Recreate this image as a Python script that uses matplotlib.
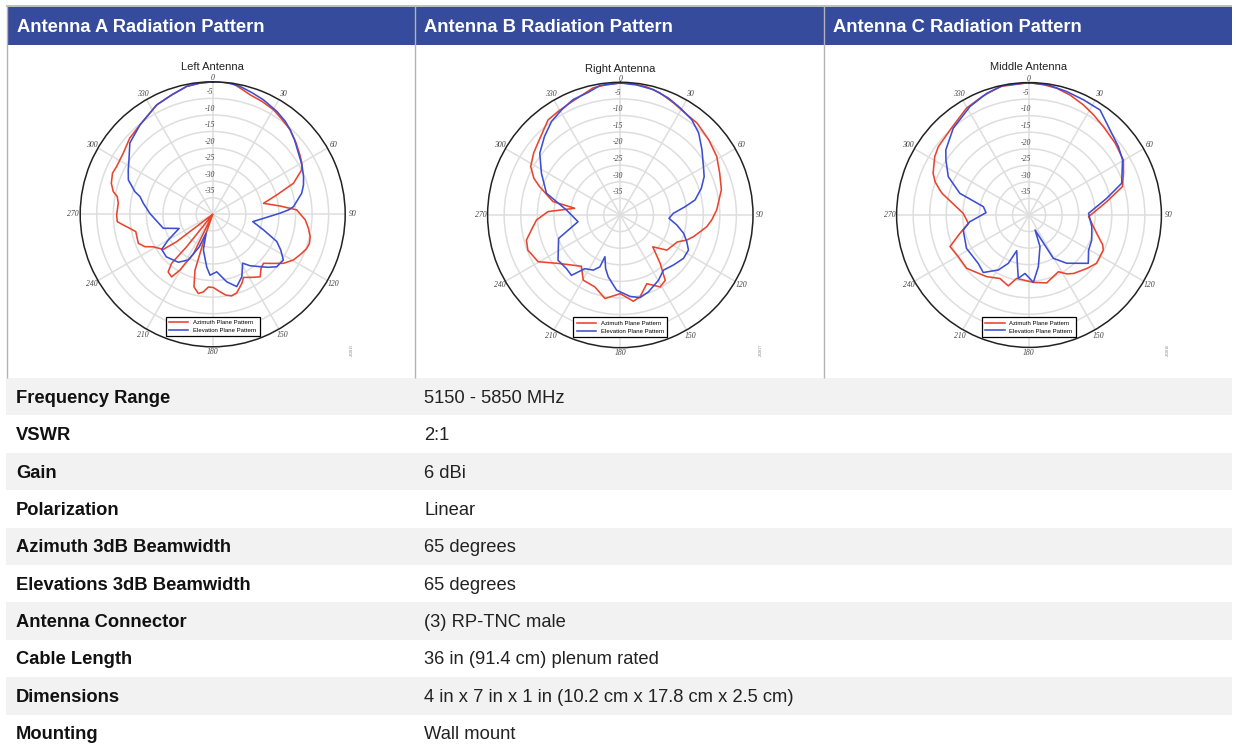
import matplotlib
matplotlib.use("Agg")
import matplotlib.pyplot as plt
import numpy as np
from matplotlib.patches import Rectangle

# angle (deg, clockwise from top), level (dB)
a_az_ang = [0, 4.6, 9, 13, 17.4, 23.5, 30.2, 36, 42.5, 49.6, 56.6, 60.2, 63.5, 69, 73.2, 77.8, 83, 87, 93.5, 98.3, 103, 106.7, 110, 114.3, 119.5, 124.7, 128.9, 134, 138.2, 142.8, 148.2, 154, 157, 163, 166.9, 170.8, 174.6, 179.5, 183.4, 186.9, 190.3, 194.5, 197.6, 199, 205, 206, 210.4, 213.3, 217.7, 220, 218.8, 222, 232.8, 234.6, 241.4, 244.5, 248.7, 257.3, 260.4, 263.2, 265.6, 269.6, 276.7, 280.5, 282.9, 287, 292.3, 296.4, 304.3, 312.6, 320.9, 332.9, 341, 348.5, 354.5, 360]
a_az_db = [0, 0, -0.1, -1.2, -2.2, -2.8, -3.5, -4.5, -5.4, -6.9, -8.3, -9, -10, -13.9, -19.8, -24.3, -19.5, -14.6, -12, -10.8, -9.8, -9.5, -9.8, -10.8, -12, -14, -16.4, -18.7, -18.1, -16.3, -17.6, -18.8, -17.4, -15.2, -14.7, -15.3, -16.5, -17.9, -18, -16.4, -15.7, -17.4, -22.3, -32.8, -40, -26.8, -20.5, -17.4, -18, -20.7, -27.5, -40, -26.3, -21.7, -19.5, -17.3, -15.9, -16.2, -14.6, -12.8, -11.1, -11, -11.3, -10.7, -9.2, -8, -7.3, -7.6, -7.3, -6, -5.2, -2.9, -1.9, -0.6, -0.2, 0]
a_el_ang = [0, 6, 12, 17.8, 23.9, 32, 38, 42.5, 47.7, 54.5, 61, 67.4, 72.1, 76.7, 84.6, 86.7, 89, 94.5, 100.4, 107, 113, 117.7, 122.9, 129.3, 133.6, 137.9, 144, 148.5, 155, 161.6, 168.3, 176, 182.5, 186.5, 194.7, 199.3, 202.4, 208, 215.6, 227.4, 235.5, 240, 247.2, 254.2, 270.9, 279, 283.7, 286.3, 292.2, 297.7, 302.2, 310.7, 320.9, 332.9, 341, 348.5, 354.5, 360]
a_el_db = [0, 0, -0.5, -1.4, -2.2, -3.4, -4.4, -5.4, -6.6, -8.2, -9.2, -10.3, -11.2, -12.4, -15.5, -17.1, -19.6, -24.6, -27.7, -24, -19, -16.8, -14.6, -15, -16.8, -18.7, -20.8, -22.7, -19.2, -17, -19.2, -22.6, -21.6, -24, -28.9, -34, -29.4, -24.4, -22.2, -21, -21.3, -24.5, -29, -24.5, -21, -18.8, -17.4, -15.5, -12.5, -11.2, -10.1, -7, -5.2, -2.9, -1.9, -0.6, -0.2, 0]

b_az_ang = [0, 5.7, 11.7, 18, 25.4, 32.5, 39.8, 49.6, 58.8, 67.2, 76, 87, 93.1, 97.7, 101.8, 106.5, 110.7, 115.3, 127, 134.4, 140.6, 145.5, 151, 158.9, 166.5, 171.4, 180, 190.4, 199.5, 209.6, 217.2, 231.3, 240.4, 249.2, 255, 260.4, 266.6, 272.7, 278.4, 281.3, 289.4, 293, 298.4, 305.5, 311.2, 322.8, 329, 335.7, 348, 354, 360]
b_az_db = [-0.2, -0.2, -0.6, -1.3, -2.6, -3.6, -3.9, -5, -6, -7.5, -8.6, -10.9, -12.4, -13.7, -15.4, -17, -18.6, -21, -22.4, -26.3, -21, -16.1, -15.2, -17.8, -14.6, -13.7, -16.3, -14.4, -17, -17.4, -20.6, -16.6, -11.5, -10.2, -10.7, -12.8, -14.7, -18.2, -26.1, -19.3, -14.2, -11.7, -9.3, -7.9, -7, -4, -3.6, -3, -0.8, -0.5, -0.2]
b_el_ang = [0, 7.2, 14.8, 22.4, 29.2, 36.9, 43.7, 51.4, 59.8, 65.4, 71.8, 78.6, 82.7, 88.2, 93.9, 100, 106.2, 111.9, 117.2, 124.5, 133.3, 142, 149.7, 160, 166.6, 173.2, 182.8, 191, 195.4, 200.2, 201.5, 206.1, 213.5, 219, 225.2, 234, 249.2, 261, 275.3, 286.4, 297.9, 307.5, 316, 323.7, 330.8, 337.8, 345.3, 351, 360]
b_el_db = [-0.2, -0.5, -0.9, -1.9, -3, -4.1, -5.8, -8.5, -11, -12.2, -14.3, -17, -20.3, -24, -25.3, -22.7, -20.1, -18.4, -16.9, -16.9, -18, -18.9, -17.2, -15.3, -14.4, -15.3, -17.3, -21, -23.3, -26.6, -23.2, -21.5, -20.6, -16.6, -17.1, -16.8, -20.1, -27.1, -23.7, -16.8, -13.1, -9.4, -7.1, -5, -3.7, -2.4, -1.8, -0.5, -0.2]

c_az_ang = [0, 6.3, 12.3, 18.9, 26.3, 32.8, 40, 50.2, 59.8, 66.2, 73.1, 80.3, 85.8, 91.6, 105.2, 112, 115.2, 125.5, 132.8, 142.8, 147.4, 152.6, 165.4, 176.3, 191, 196.3, 204.6, 214.5, 229.5, 239.5, 248.2, 255.1, 262.2, 271.5, 283.9, 285.7, 289.5, 293.5, 301.8, 307, 318.3, 329.7, 338.5, 347.3, 360]
c_az_db = [0, -0.4, -0.8, -1.7, -2.9, -4, -5.1, -6.1, -7, -8.8, -10.5, -16.2, -19.5, -22, -18.8, -16, -15.2, -14.9, -16.2, -17.8, -18.9, -20.7, -18.8, -19.6, -20.5, -17.7, -18.9, -17.4, -15.2, -15.2, -14.3, -18.4, -21.5, -20.1, -13, -12, -9.9, -8.4, -6.5, -5.7, -4.8, -2.6, -1.5, -0.2, 0]
c_el_ang = [0, 8.5, 17, 25.3, 34.1, 47.1, 52.6, 59.5, 71.1, 77.9, 88.4, 100.5, 111.8, 120.5, 129.2, 142, 150.7, 158, 160.8, 169.8, 176.3, 183.9, 189.6, 193.6, 199, 203.2, 209.1, 218.5, 226.4, 241.9, 257.1, 263.5, 273.1, 280.3, 287.4, 295.4, 303.5, 308, 318.9, 331.4, 340.8, 348.8, 360]
c_el_db = [0, -0.3, -1, -1.5, -1.7, -5.2, -6, -7.2, -10.4, -16, -22, -20.7, -19.6, -19.1, -16.9, -21.5, -25, -35.1, -29.9, -24.1, -19.6, -22.3, -20.6, -25, -28.6, -24.1, -21, -17.8, -18.8, -18.6, -19.6, -22, -27, -26, -18.1, -13, -9.9, -8.1, -5.2, -2.7, -1.1, -0.1, 0]

headers = ["Antenna A Radiation Pattern", "Antenna B Radiation Pattern", "Antenna C Radiation Pattern"]
titles = ["Left Antenna", "Right Antenna", "Middle Antenna"]
codes = ["202815", "202817", "202816"]
spec_names = ["Frequency Range", "VSWR", "Gain", "Polarization", "Azimuth 3dB Beamwidth",
              "Elevations 3dB Beamwidth", "Antenna Connector", "Cable Length", "Dimensions", "Mounting"]
spec_values = ["5150 - 5850 MHz", "2:1", "6 dBi", "Linear", "65 degrees", "65 degrees",
               "(3) RP-TNC male", "36 in (91.4 cm) plenum rated",
               "4 in x 7 in x 1 in (10.2 cm x 17.8 cm x 2.5 cm)", "Wall mount"]
db_rings = [-35, -30, -25, -20, -15, -10, -5]
angle_ticks = [0, 30, 60, 90, 120, 150, 180, 210, 240, 270, 300, 330]

W, H = 1236, 748
BLUE_HEAD = "#364b9b"
BORDER = "#b3b3b3"
plt.rcParams["font.family"] = ["Liberation Sans", "DejaVu Sans"]

fig = plt.figure(figsize=(W / 100, H / 100), dpi=100, facecolor="white")
bg = fig.add_axes([0, 0, 1, 1])
bg.set_xlim(0, W)
bg.set_ylim(H, 0)
bg.axis("off")

# table
col_x = [6.5, 415, 824]
head_x = [17, 424.5, 833]
bg.add_patch(Rectangle((6.5, 6.5), 1225.5, 38, fc=BLUE_HEAD, ec="none"))
bg.plot([6, 1232], [6, 6], color=BORDER, lw=1.2, solid_capstyle="butt")
for x in col_x:
    bg.plot([x, x], [6, 378], color=BORDER, lw=1, solid_capstyle="butt")
for i, txt in enumerate(headers):
    bg.text(head_x[i], 27, txt, color="white", fontsize=13.2, fontweight="bold", va="center")

row_top = 378
row_h = 37.4
for i in range(len(spec_names)):
    y = row_top + i * row_h
    if i % 2 == 0:
        bg.add_patch(Rectangle((6, y), 1226, row_h, fc="#f2f2f2", ec="none"))
    bg.text(16, y + row_h / 2 + 1.5, spec_names[i], fontsize=13.2, fontweight="bold", color="#111111", va="center")
    bg.text(424, y + row_h / 2 + 1.5, spec_values[i], fontsize=13.2, color="#222222", va="center")


def polar_panel(cx, cy, R, az_ang, az_db, el_ang, el_db, title, title_y, code, code_x):
    ax = fig.add_axes([(cx - R) / W, 1 - (cy + R) / H, 2 * R / W, 2 * R / H], projection="polar")
    ax.patch.set_alpha(0)
    ax.set_theta_zero_location("N")
    ax.set_theta_direction(-1)
    ax.set_rorigin(-40)
    ax.set_ylim(-40, 0)
    ax.set_xticks(np.deg2rad(angle_ticks))
    ax.set_xticklabels([])
    ax.set_yticks(db_rings)
    ax.set_yticklabels([])
    ax.grid(True, color="#dedede", lw=1.1)
    ax.spines["polar"].set_color("#222222")
    ax.spines["polar"].set_linewidth(1.1)

    l1, = ax.plot(np.deg2rad(az_ang), az_db, color="#e8442e", lw=1.15, label="Azimuth Plane Pattern")
    l2, = ax.plot(np.deg2rad(el_ang), el_db, color="#3c4ed2", lw=1.15, label="Elevation Plane Pattern")

    for a in angle_ticks:
        off = 1.0 if a == 0 else (1.7 if a == 180 else 2.1)
        ax.text(np.deg2rad(a), off, str(a), family="Liberation Serif", style="italic", fontsize=5.6,
                color="#444444", ha="center", va="center", clip_on=False)
    for d in db_rings:
        ax.annotate(str(d), (0, d), xytext=(-2, 4.5), textcoords="offset points", family="Liberation Serif",
                    style="italic", fontsize=5.6, color="#444444", ha="center", va="center")

    leg = ax.legend(handles=[l1, l2], loc="center", bbox_to_anchor=(0.5, 0.077), fontsize=4.3, fancybox=False,
                    edgecolor="black", framealpha=1, handlelength=3.2, labelspacing=0.45, borderpad=0.55)
    leg.get_frame().set_linewidth(0.9)

    bg.text(cx, title_y, title, fontsize=8, color="#222222", ha="center", va="center")
    bg.text(code_x, 350, code, fontsize=3, color="#777777", rotation=90, ha="center", va="center",
            family="Liberation Serif")


polar_panel(212.7, 214.3, 132.5, a_az_ang, a_az_db, a_el_ang, a_el_db, titles[0], 66.7, codes[0], 352)
polar_panel(620.3, 215, 132.7, b_az_ang, b_az_db, b_el_ang, b_el_db, titles[1], 69, codes[1], 761)
polar_panel(1029, 215, 132.4, c_az_ang, c_az_db, c_el_ang, c_el_db, titles[2], 66.7, codes[2], 1168)

fig.savefig("out.png", dpi=100)
